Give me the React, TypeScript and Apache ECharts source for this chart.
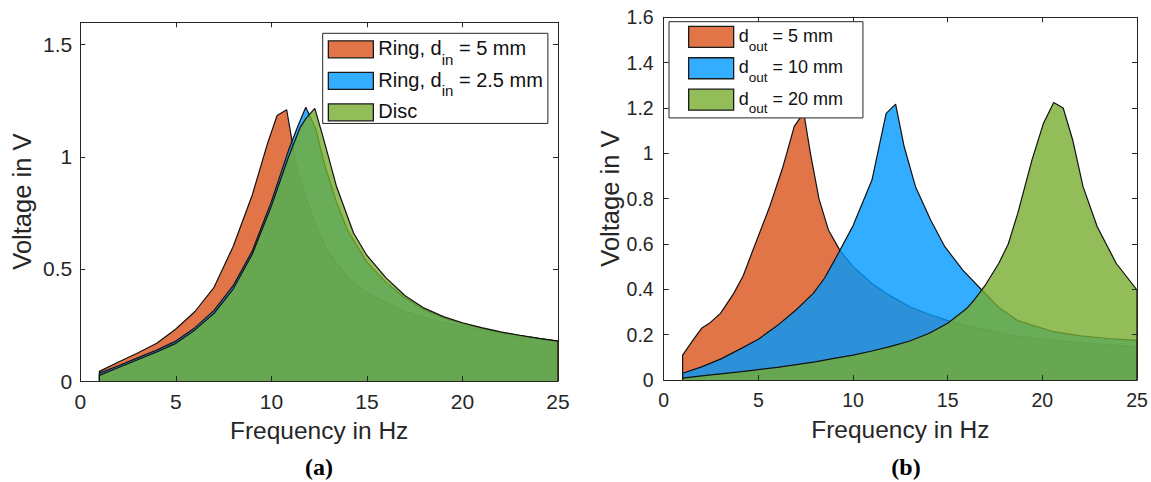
import React, { useEffect, useRef } from "react";
import * as echarts from "echarts";

// ---- Panel (a): ring vs. disc, frequency in Hz -> voltage in V ----
const ringInner5: [number, number][] = [
  [1, 0.043], [2, 0.085], [3, 0.125], [4, 0.168], [5, 0.232], [6, 0.31], [7, 0.418],
  [8, 0.6], [9, 0.83], [9.8, 1.06], [10.3, 1.184], [10.8, 1.21], [11.05, 1.087],
  [11.3, 0.96], [11.85, 0.806], [12.4, 0.68], [12.9, 0.583], [14, 0.46], [15, 0.395],
  [16, 0.35], [17, 0.31], [18, 0.282], [19, 0.262], [20, 0.243], [21, 0.226],
  [22, 0.21], [23, 0.196], [24, 0.185], [25, 0.175],
];
const ringInner25: [number, number][] = [
  [1, 0.035], [2, 0.068], [3, 0.103], [4, 0.138], [5, 0.178], [6, 0.238], [7, 0.315],
  [8, 0.425], [9, 0.58], [10, 0.8], [10.9, 1.03], [11.4, 1.14], [11.8, 1.221],
  [12.3, 1.13], [12.8, 0.96], [13.4, 0.8], [14, 0.67], [15, 0.53], [16, 0.44],
  [17, 0.37], [18, 0.318], [19, 0.282], [20, 0.256], [21, 0.235], [22, 0.217],
  [23, 0.202], [24, 0.19], [25, 0.178],
];
const discA: [number, number][] = [
  [1, 0.025], [2, 0.06], [3, 0.095], [4, 0.13], [5, 0.168], [6, 0.228], [7, 0.302],
  [8, 0.41], [9, 0.565], [10, 0.78], [10.9, 1.0], [11.5, 1.13], [11.8, 1.17],
  [12.27, 1.216], [12.7, 1.09], [13.4, 0.87], [14.3, 0.66], [15, 0.56], [16, 0.46],
  [17, 0.38], [18, 0.325], [19, 0.287], [20, 0.26], [21, 0.238], [22, 0.219],
  [23, 0.204], [24, 0.19], [25, 0.178],
];

// ---- Panel (b): outer diameter sweep ----
const outer5: [number, number][] = [
  [1, 0.11], [1.5, 0.17], [2, 0.228], [2.45, 0.253], [3, 0.294], [3.7, 0.382],
  [4.2, 0.46], [4.65, 0.559], [5.6, 0.765], [6.3, 0.941], [6.9, 1.12], [7.4, 1.178],
  [7.75, 1.0], [8.2, 0.8], [8.7, 0.662], [9.3, 0.573], [10, 0.5], [11, 0.426], [12, 0.37],
  [13, 0.323], [14, 0.29], [15, 0.262], [16, 0.24], [17, 0.222], [18, 0.203],
  [19, 0.19], [20, 0.18], [21, 0.172], [22, 0.165], [23, 0.158], [24, 0.152], [25, 0.147],
];
const outer10: [number, number][] = [
  [1, 0.03], [2, 0.058], [3, 0.092], [4, 0.135], [5, 0.18], [6, 0.24], [7, 0.31],
  [7.9, 0.382], [8.5, 0.45], [9.1, 0.54], [10, 0.68], [11, 0.882], [11.75, 1.176],
  [12.25, 1.217], [12.7, 1.03], [13.3, 0.853], [14.1, 0.706], [14.85, 0.588],
  [15.8, 0.485], [16.8, 0.397], [17.7, 0.32], [18.7, 0.262], [20.6, 0.213], [22, 0.195],
  [23.5, 0.183], [25, 0.175],
];
const outer20: [number, number][] = [
  [1, 0.008], [2, 0.018], [3, 0.027], [4, 0.036], [5, 0.046], [6, 0.056], [7, 0.068],
  [8, 0.08], [9, 0.095], [10, 0.11], [11, 0.128], [12, 0.148], [13, 0.172], [14, 0.205],
  [15, 0.25], [16, 0.315], [16.4, 0.353], [17, 0.42], [17.7, 0.515], [18.2, 0.6],
  [18.7, 0.735], [19.45, 0.97], [20.05, 1.13], [20.6, 1.224], [21.1, 1.2], [21.6, 1.06],
  [22.15, 0.853], [22.9, 0.676], [23.9, 0.515], [25, 0.397],
];

// axis ticks
const freqTicks = [0, 5, 10, 15, 20, 25];
const voltTicksA = [0, 0.5, 1, 1.5];
const voltTicksB = [0, 0.2, 0.4, 0.6, 0.8, 1, 1.2, 1.4, 1.6];
const voltMax = 1.6;

// legend entries: [series name, rich label]
const namesA = ["Ring, d_in = 5 mm", "Ring, d_in = 2.5 mm", "Disc"];
const labelsA = ["{t|Ring, d}{s|in}{t| = 5 mm}", "{t|Ring, d}{s|in}{t| = 2.5 mm}", "{t|Disc}"];
const namesB = ["d_out = 5 mm", "d_out = 10 mm", "d_out = 20 mm"];
const labelsB = ["{t|d}{s|out}{t| = 5 mm}", "{t|d}{s|out}{t| = 10 mm}", "{t|d}{s|out}{t| = 20 mm}"];

// MATLAB-like palette, filled at 80 % opacity
const fills = ["#D95319", "#0099FF", "#77AC30"];
const swatches = ["#E17547", "#33ADFF", "#92BD59"];
const ink = "#262626";
const FONT = '"Liberation Sans", Arial, Helvetica, sans-serif';

const closeArea = (pts: [number, number][]) => [
  [pts[0][0], 0],
  ...pts,
  [pts[pts.length - 1][0], 0],
];

function xAxes(grid: number, fontSize: number) {
  const step = freqTicks[1] - freqTicks[0];
  const base = {
    type: "value",
    gridIndex: grid,
    z: 10,
    min: freqTicks[0],
    max: freqTicks[freqTicks.length - 1],
    interval: step,
    splitLine: { show: false },
    axisLine: { show: true, onZero: false, lineStyle: { color: ink, width: 1 } },
    axisTick: { show: true, inside: true, length: 5, lineStyle: { color: ink, width: 1 } },
  };
  return [
    {
      ...base,
      position: "bottom",
      axisLabel: { color: ink, fontSize, fontFamily: FONT, margin: 10 },
      name: "Frequency in Hz",
      nameLocation: "middle",
      nameGap: 37,
      nameTextStyle: { color: ink, fontSize: 24.5, fontFamily: FONT },
    },
    { ...base, position: "top", axisLabel: { show: false } },
  ];
}

function yAxes(grid: number, ticks: number[], fontSize: number, margin: number, nameGap: number) {
  const step = ticks[1] - ticks[0];
  const base = {
    type: "value",
    gridIndex: grid,
    z: 10,
    min: 0,
    max: voltMax,
    interval: step,
    splitLine: { show: false },
    axisLine: { show: true, onZero: false, lineStyle: { color: ink, width: 1 } },
    axisTick: { show: true, inside: true, length: 5, lineStyle: { color: ink, width: 1 } },
  };
  return [
    {
      ...base,
      position: "left",
      axisLabel: {
        color: ink,
        fontSize,
        fontFamily: FONT,
        margin,
        formatter: (v: number) => (ticks.some((t) => Math.abs(t - v) < 1e-9) ? String(v) : ""),
      },
      name: "Voltage in V",
      nameLocation: "middle",
      nameGap,
      nameTextStyle: { color: ink, fontSize: 25.5, fontFamily: FONT },
    },
    { ...base, position: "right", axisLabel: { show: false } },
  ];
}

// each series gets its own z so its outline is covered by the series drawn after it
function areaSeries(name: string, data: [number, number][], i: number, grid: number) {
  return {
    type: "line",
    name,
    z: 2 + i,
    xAxisIndex: grid * 2,
    yAxisIndex: grid * 2,
    data: closeArea(data),
    symbol: "none",
    showSymbol: false,
    silent: true,
    itemStyle: { color: fills[i] },
    lineStyle: { color: "#111", width: 1.2 },
    areaStyle: { color: fills[i], opacity: 0.8 },
  };
}

function legend(
  names: string[],
  labels: string[],
  pos: { left: number; top: number },
  padding: number[],
  fontSize: number,
  subSize: number,
  itemHeight: number,
  itemGap: number,
) {
  const lineH = fontSize + 2;
  return {
    orient: "vertical",
    z: 20,
    left: pos.left,
    top: pos.top,
    padding,
    itemGap,
    itemWidth: 45,
    itemHeight,
    selectedMode: false,
    backgroundColor: "#fff",
    borderColor: ink,
    borderWidth: 1,
    borderRadius: 0,
    data: names.map((n, i) => ({
      name: n,
      icon: "rect",
      itemStyle: { color: swatches[i], borderColor: "#1a1a1a", borderWidth: 1.3, opacity: 1 },
    })),
    formatter: (n: string) => labels[names.indexOf(n)],
    textStyle: {
      color: "#111",
      fontFamily: FONT,
      fontSize,
      rich: {
        t: { fontSize, fontFamily: FONT, color: "#111", lineHeight: lineH, verticalAlign: "top" },
        s: {
          fontSize: subSize,
          fontFamily: FONT,
          color: "#111",
          lineHeight: subSize,
          padding: [lineH - subSize / 2 - 1, 0, 0, 0],
          verticalAlign: "top",
        },
      },
    },
  };
}

export default function App() {
  const ref = useRef<HTMLDivElement>(null);

  useEffect(() => {
    if (!ref.current) return;
    const chart = echarts.init(ref.current, undefined, { renderer: "svg" });
    chart.setOption({
      animation: false,
      backgroundColor: "#fff",
      grid: [
        { left: 80.3, top: 22.3, width: 477.7, height: 358.7, containLabel: false },
        { left: 663.7, top: 17.3, width: 473.3, height: 362.7, containLabel: false },
      ],
      xAxis: [...xAxes(0, 21), ...xAxes(1, 19.5)],
      yAxis: [...yAxes(0, voltTicksA, 21, 8, 45), ...yAxes(1, voltTicksB, 19.5, 10, 40)],
      legend: [
        legend(namesA, labelsA, { left: 322.7, top: 33.3 }, [5, 5, 2, 5], 20, 15, 17, 3),
        legend(namesB, labelsB, { left: 669, top: 21.7 }, [4, 20, 2, 19], 18, 13.5, 21, 4),
      ],
      series: [
        areaSeries(namesA[0], ringInner5, 0, 0),
        areaSeries(namesA[1], ringInner25, 1, 0),
        areaSeries(namesA[2], discA, 2, 0),
        areaSeries(namesB[0], outer5, 0, 1),
        areaSeries(namesB[1], outer10, 1, 1),
        areaSeries(namesB[2], outer20, 2, 1),
      ],
      graphic: [
        {
          type: "text",
          x: 319,
          y: 467,
          style: {
            text: "(a)",
            font: 'bold 24px "Liberation Serif", "Times New Roman", serif',
            fill: "#000",
            align: "center",
            verticalAlign: "middle",
          },
        },
        {
          type: "text",
          x: 906,
          y: 467,
          style: {
            text: "(b)",
            font: 'bold 24px "Liberation Serif", "Times New Roman", serif',
            fill: "#000",
            align: "center",
            verticalAlign: "middle",
          },
        },
      ],
    });
    return () => chart.dispose();
  }, []);

  return (
    <div
      ref={ref}
      style={{ position: "absolute", left: 0, top: 0, width: 1151, height: 482, background: "#fff" }}
    />
  );
}
